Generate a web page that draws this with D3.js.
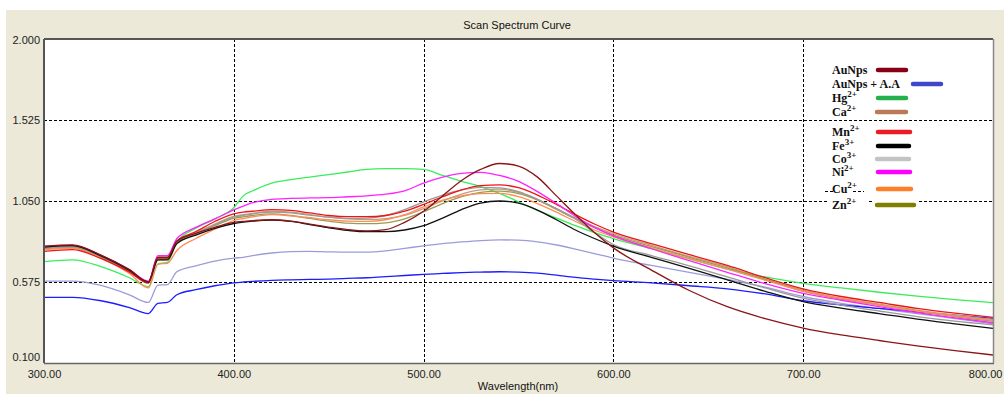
<!DOCTYPE html>
<html>
<head>
<meta charset="utf-8">
<script src="https://cdn.jsdelivr.net/npm/d3@7"></script>
<style>
  html, body { margin: 0; padding: 0; background: #ffffff; }
  svg { display: block; }
</style>
</head>
<body>
<svg id="chart" width="1004" height="394"></svg>
<script>
// ---------------- DATA ----------------
const wavelengths = [300, 315, 330, 345, 355, 360, 365, 370, 380, 390, 400, 405, 410, 420, 430, 440, 450, 460, 470, 480, 490, 500, 510, 520, 530, 540, 550, 560, 570, 580, 590, 600, 620, 640, 660, 680, 700, 720, 740, 760, 780, 800];

const auNps = [0.785, 0.793, 0.733, 0.648, 0.575, 0.72, 0.72, 0.815, 0.86, 0.895, 0.925, 0.93, 0.935, 0.94, 0.932, 0.915, 0.897, 0.882, 0.875, 0.882, 0.925, 0.99, 1.08, 1.17, 1.235, 1.27, 1.255, 1.19, 1.08, 0.97, 0.865, 0.775, 0.645, 0.525, 0.43, 0.36, 0.305, 0.265, 0.232, 0.2, 0.172, 0.147];
const auNpsAA = [0.485, 0.485, 0.465, 0.425, 0.39, 0.45, 0.455, 0.5, 0.53, 0.553, 0.57, 0.575, 0.579, 0.585, 0.588, 0.59, 0.592, 0.596, 0.6, 0.607, 0.613, 0.62, 0.625, 0.63, 0.633, 0.635, 0.633, 0.627, 0.615, 0.602, 0.592, 0.583, 0.57, 0.553, 0.535, 0.505, 0.465, 0.44, 0.42, 0.4, 0.38, 0.362];
const hg = [0.695, 0.705, 0.665, 0.6, 0.548, 0.68, 0.69, 0.81, 0.89, 0.945, 1.01, 1.08, 1.11, 1.155, 1.175, 1.19, 1.205, 1.22, 1.235, 1.24, 1.24, 1.235, 1.2, 1.165, 1.135, 1.095, 1.045, 0.995, 0.95, 0.905, 0.865, 0.83, 0.77, 0.71, 0.65, 0.605, 0.567, 0.54, 0.515, 0.492, 0.472, 0.454];
const ca = [0.772, 0.78, 0.722, 0.638, 0.572, 0.712, 0.712, 0.81, 0.862, 0.915, 0.96, 0.97, 0.978, 0.99, 0.985, 0.97, 0.955, 0.945, 0.942, 0.947, 0.965, 1.005, 1.05, 1.09, 1.115, 1.12, 1.1, 1.06, 1.005, 0.95, 0.9, 0.858, 0.79, 0.725, 0.665, 0.59, 0.527, 0.48, 0.445, 0.41, 0.38, 0.355];
const mn = [0.755, 0.765, 0.713, 0.633, 0.57, 0.715, 0.715, 0.815, 0.87, 0.93, 0.975, 0.985, 0.99, 1.0, 0.995, 0.98, 0.965, 0.958, 0.958, 0.965, 0.99, 1.03, 1.075, 1.115, 1.14, 1.145, 1.128, 1.085, 1.03, 0.97, 0.915, 0.868, 0.8, 0.735, 0.672, 0.6, 0.535, 0.49, 0.455, 0.42, 0.392, 0.368];
const fe = [0.78, 0.788, 0.728, 0.643, 0.575, 0.705, 0.705, 0.8, 0.85, 0.89, 0.918, 0.926, 0.932, 0.938, 0.93, 0.912, 0.893, 0.878, 0.87, 0.87, 0.88, 0.905, 0.95, 1.0, 1.038, 1.05, 1.037, 0.997, 0.94, 0.88, 0.83, 0.785, 0.72, 0.655, 0.588, 0.52, 0.46, 0.422, 0.39, 0.357, 0.33, 0.303];
const co = [0.775, 0.783, 0.725, 0.64, 0.573, 0.715, 0.715, 0.81, 0.86, 0.91, 0.955, 0.965, 0.975, 0.985, 0.98, 0.967, 0.955, 0.948, 0.95, 0.965, 1.0, 1.045, 1.085, 1.115, 1.13, 1.127, 1.105, 1.06, 1.005, 0.945, 0.865, 0.795, 0.73, 0.67, 0.605, 0.54, 0.48, 0.44, 0.405, 0.372, 0.345, 0.323];
const ni = [0.782, 0.79, 0.732, 0.648, 0.58, 0.73, 0.73, 0.83, 0.895, 0.945, 0.998, 1.02, 1.04, 1.06, 1.065, 1.068, 1.07, 1.075, 1.08, 1.09, 1.11, 1.155, 1.19, 1.212, 1.218, 1.2, 1.165, 1.105, 1.035, 0.96, 0.895, 0.845, 0.77, 0.7, 0.632, 0.565, 0.508, 0.468, 0.43, 0.395, 0.365, 0.336];
const cu = [0.765, 0.773, 0.713, 0.625, 0.54, 0.68, 0.685, 0.76, 0.83, 0.885, 0.935, 0.947, 0.957, 0.97, 0.963, 0.952, 0.94, 0.932, 0.93, 0.94, 0.97, 1.015, 1.055, 1.08, 1.093, 1.095, 1.075, 1.035, 0.985, 0.93, 0.88, 0.84, 0.775, 0.712, 0.65, 0.585, 0.522, 0.478, 0.44, 0.405, 0.375, 0.35];
const zn = [0.77, 0.778, 0.72, 0.636, 0.568, 0.705, 0.708, 0.8, 0.855, 0.905, 0.948, 0.957, 0.965, 0.975, 0.965, 0.948, 0.932, 0.92, 0.917, 0.922, 0.945, 0.987, 1.035, 1.075, 1.1, 1.108, 1.093, 1.055, 1.0, 0.945, 0.893, 0.85, 0.783, 0.72, 0.658, 0.59, 0.52, 0.475, 0.44, 0.405, 0.372, 0.345];
const unlabeled = [0.58, 0.58, 0.555, 0.5, 0.455, 0.557, 0.56, 0.635, 0.67, 0.698, 0.715, 0.72, 0.73, 0.745, 0.753, 0.755, 0.752, 0.75, 0.75, 0.758, 0.772, 0.787, 0.8, 0.81, 0.818, 0.822, 0.82, 0.81, 0.792, 0.768, 0.742, 0.715, 0.672, 0.632, 0.59, 0.545, 0.49, 0.45, 0.42, 0.39, 0.36, 0.33];

const xTicks = [300, 400, 500, 600, 700, 800];
const yTicks = [0.100, 0.575, 1.050, 1.525, 2.000];

const legendNames = ["AuNps", "AuNps + A.A", "Hg", "Ca", "Mn", "Fe", "Co", "Ni", "Cu", "Zn"];
const legendSups = ["", "", "2+", "2+", "2+", "3+", "3+", "2+", "2+", "2+"];
const legendColors = ["#880015", "#3F48CC", "#22B14C", "#B97A57", "#ED1C24", "#000000", "#C3C3C3", "#FF00FF", "#FF7F27", "#808000"];

// ---------------- LAYOUT ----------------
const svg = d3.select("#chart");
const W = 1004, H = 394;
const plot = { left: 44, top: 39, right: 993, bottom: 363 };

svg.append("rect").attr("x", 6).attr("y", 10).attr("width", W - 6).attr("height", H - 10).attr("fill", "#ECE9D8");

const x = d3.scaleLinear().domain([300, 800]).range([plot.left, plot.right]);
const y = d3.scaleLinear().domain([0.1, 2.0]).range([plot.bottom, plot.top]);

svg.append("rect")
  .attr("x", plot.left).attr("y", plot.top)
  .attr("width", plot.right - plot.left).attr("height", plot.bottom - plot.top)
  .attr("fill", "#ffffff");

// grid
const grid = svg.append("g");
grid.selectAll("line.v").data(xTicks.slice(1, -1)).join("line")
  .attr("x1", d => Math.round(x(d)) + 0.5).attr("x2", d => Math.round(x(d)) + 0.5)
  .attr("y1", plot.top).attr("y2", plot.bottom)
  .attr("stroke", "#000").attr("stroke-width", 1).attr("stroke-dasharray", "3,2");
grid.selectAll("line.h").data(yTicks.slice(1, -1)).join("line")
  .attr("x1", plot.left).attr("x2", plot.right)
  .attr("y1", d => Math.round(y(d)) + 0.5).attr("y2", d => Math.round(y(d)) + 0.5)
  .attr("stroke", "#000").attr("stroke-width", 1).attr("stroke-dasharray", "3,2");

// series
const series = [
  { name: "unlabeled", values: unlabeled, color: "#9C9CDA" },
  { name: "AuNps + A.A", values: auNpsAA, color: "#1C1CFF" },
  { name: "Hg", values: hg, color: "#38EE5A" },
  { name: "Ca", values: ca, color: "#C49A78" },
  { name: "Zn", values: zn, color: "#9A9A55" },
  { name: "Cu", values: cu, color: "#FF8C55" },
  { name: "Co", values: co, color: "#9A9A9A" },
  { name: "Mn", values: mn, color: "#EE1515" },
  { name: "Ni", values: ni, color: "#FF22FF" },
  { name: "Fe", values: fe, color: "#111111" },
  { name: "AuNps", values: auNps, color: "#8B1414" }
];

const line = d3.line()
  .x((d, i) => x(wavelengths[i]))
  .y(d => y(d))
  .curve(d3.curveMonotoneX);

const lines = svg.append("g");
series.forEach(s => {
  lines.append("path")
    .attr("d", line(s.values))
    .attr("fill", "none")
    .attr("stroke", s.color)
    .attr("stroke-width", 1.3)
    .attr("stroke-linejoin", "round");
});

// frame
svg.append("line").attr("x1", plot.left).attr("x2", plot.right).attr("y1", plot.top).attr("y2", plot.top)
  .attr("stroke", "#555").attr("stroke-width", 2);
svg.append("line").attr("x1", plot.left).attr("x2", plot.left).attr("y1", plot.top).attr("y2", plot.bottom)
  .attr("stroke", "#555").attr("stroke-width", 2);
svg.append("line").attr("x1", plot.left).attr("x2", plot.right + 1).attr("y1", plot.bottom + 0.5).attr("y2", plot.bottom + 0.5)
  .attr("stroke", "#666").attr("stroke-width", 1.5);
svg.append("line").attr("x1", plot.right + 0.5).attr("x2", plot.right + 0.5).attr("y1", plot.top).attr("y2", plot.bottom)
  .attr("stroke", "#888").attr("stroke-width", 1.5);

// axes (labels only)
const font = "'Liberation Sans', Arial, sans-serif";
const xAxis = d3.axisBottom(x).tickValues(xTicks).tickSize(0).tickPadding(0).tickFormat(d3.format(".2f"));
const gx = svg.append("g").attr("transform", `translate(0, ${plot.bottom})`).call(xAxis);
gx.select(".domain").remove();
gx.selectAll("text").attr("font-family", font).attr("font-size", 11).attr("fill", "#222").attr("dy", "1.1em").attr("y", 3);
// keep the last label inside the window
gx.selectAll("text").filter(d => d === xTicks[xTicks.length - 1])
  .attr("text-anchor", "end").attr("x", W - 2 - x(xTicks[xTicks.length - 1]));

const yAxis = d3.axisLeft(y).tickValues(yTicks).tickSize(0).tickPadding(4).tickFormat(d3.format(".3f"));
const gy = svg.append("g").attr("transform", `translate(${plot.left}, 0)`).call(yAxis);
gy.select(".domain").remove();
gy.selectAll("text").attr("font-family", font).attr("font-size", 11).attr("fill", "#222")
  .attr("dy", d => d === yTicks[0] ? "-0.2em" : (d === yTicks[yTicks.length - 1] ? "0.45em" : "0.32em"));

// titles
svg.append("text").attr("x", 517).attr("y", 29).attr("text-anchor", "middle")
  .attr("font-family", font).attr("font-size", 11).attr("fill", "#111").text("Scan Spectrum Curve");
svg.append("text").attr("x", 518).attr("y", 390).attr("text-anchor", "middle")
  .attr("font-family", font).attr("font-size", 11).attr("fill", "#111").text("Wavelength(nm)");

// legend
const legendY = [70, 84, 98, 112, 132, 146, 159, 172, 189, 205];
const legendX1 = [878, 913, 878, 877, 878, 878, 877, 878, 878, 877];
const legendX2 = [906, 941, 906, 906, 910, 909, 909, 910, 911, 914];

// knock out grid behind the "Zn" label
svg.append("rect").attr("x", 828).attr("y", 196).attr("width", 39).attr("height", 14).attr("fill", "#fff");
svg.append("rect").attr("x", 873).attr("y", 199).attr("width", 46).attr("height", 5).attr("fill", "#fff");

const lg = svg.append("g");
legendNames.forEach((name, i) => {
  const t = lg.append("text")
    .attr("x", 832).attr("y", legendY[i] + 4)
    .attr("font-family", "'Liberation Serif', 'Times New Roman', serif")
    .attr("font-weight", "bold").attr("font-size", 12).attr("fill", "#111");
  t.append("tspan").text(name);
  if (legendSups[i]) {
    t.append("tspan").attr("dy", -5).attr("font-size", 9).text(legendSups[i]);
  }
  lg.append("line")
    .attr("x1", legendX1[i]).attr("x2", legendX2[i])
    .attr("y1", legendY[i]).attr("y2", legendY[i])
    .attr("stroke", legendColors[i]).attr("stroke-width", 4.5).attr("stroke-linecap", "round");
});
// small stray dashes around the Cu label
lg.append("line").attr("x1", 825).attr("x2", 833).attr("y1", 191.5).attr("y2", 191.5)
  .attr("stroke", "#000").attr("stroke-dasharray", "3,2");
lg.append("line").attr("x1", 853).attr("x2", 864).attr("y1", 191.5).attr("y2", 191.5)
  .attr("stroke", "#000").attr("stroke-dasharray", "3,2");
</script>
</body>
</html>
